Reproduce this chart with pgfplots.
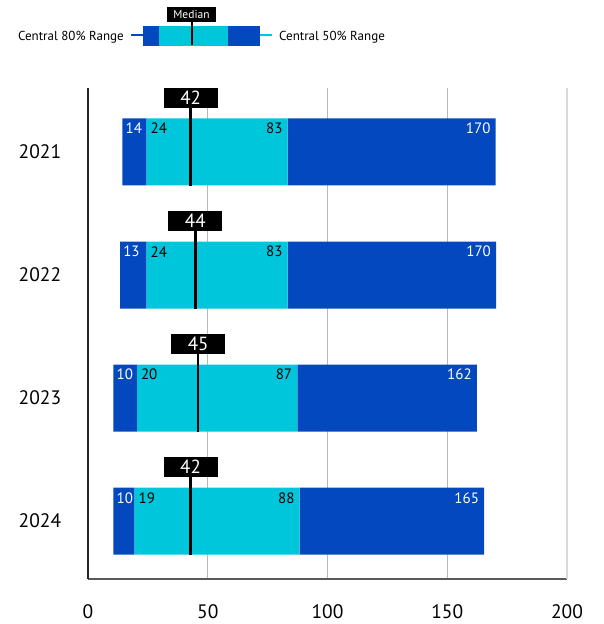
\documentclass[border=0pt]{standalone}
\usepackage{fontspec}
\setmainfont{PT Sans}
\usepackage{pgfplots}
\usepackage{pgfplotstable}
\pgfplotsset{compat=1.18}
\definecolor{dkblue}{RGB}{4,72,192}
\definecolor{cyanb}{RGB}{0,198,219}

\pgfplotstableread{
idx a b m c d la lb lm lc ld
0 14.4 24.4 42.9 83.4 170.2 14 24 42 83 170
1 13.4 24.4 44.8 83.4 170.4 13 24 44 83 170
2 10.6 20.4 46.0 87.4 162.4 10 20 45 87 162
3 10.6 19.4 42.8 88.4 165.4 10 19 42 88 165
}\data

\pgfplotsset{base/.style={scale only axis, width=479pt, height=491pt,
  xmin=0, xmax=200, ymin=-0.52, ymax=3.47, y dir=reverse,
  at={(88pt,45pt)}, anchor=south west}}

\begin{document}
\begin{tikzpicture}[x=1pt,y=1pt]
\path (0,0) rectangle (604,624);
\begin{axis}[base, xbar stacked, bar width=67pt,
  axis x line*=bottom, axis y line*=left,
  axis line style={-, line width=1.2pt},
  x axis line style={color=black!65},
  y axis line style={color=black!85},
  xtick={0,50,100,150}, extra x ticks={200},
  extra x tick style={grid style={black!15, line width=1.8pt}},
  xmajorgrids, grid style={black!28, line width=0.8pt},
  ytick={0,1,2,3}, yticklabels={2021,2022,2023,2024},
  major tick length=0pt,
  tick label style={font=\fontsize{19.5}{19.5}\selectfont},
  xticklabel style={anchor=center, yshift=-33pt},
  yticklabel style={anchor=center, xshift=-48pt},
  /pgf/number format/assume math mode=true]
\addplot[draw=none, fill=none] table[x=a, y=idx]{\data};
\addplot[draw=none, fill=dkblue] table[x expr=\thisrow{b}-\thisrow{a}, y=idx]{\data};
\addplot[draw=none, fill=cyanb] table[x expr=\thisrow{c}-\thisrow{b}, y=idx]{\data};
\addplot[draw=none, fill=dkblue] table[x expr=\thisrow{d}-\thisrow{c}, y=idx]{\data};
\end{axis}
\begin{axis}[base, hide axis, clip=false]
\addplot[draw=none, mark=none, error bars/.cd, y dir=both, y explicit, error mark=none,
  error bar style={line width=2.6pt, black, line cap=butt}]
  table[x=m, y expr=\thisrow{idx}-0.085, y error expr=0.36]{\data};
\addplot[only marks, mark=none, nodes near coords, point meta=explicit symbolic,
  nodes near coords style={anchor=center, fill=black, text=white, minimum width=54pt,
  minimum height=20pt, inner sep=0pt, font=\fontsize{19}{19}\selectfont}]
  table[x=m, y expr=\thisrow{idx}-0.44, meta=lm]{\data};
\addplot[only marks, mark=none, nodes near coords, point meta=explicit symbolic,
  nodes near coords style={anchor=west, xshift=3pt, text=white, inner sep=0pt, font=\fontsize{15}{15}\selectfont}]
  table[x=a, y expr=\thisrow{idx}-0.19, meta=la]{\data};
\addplot[only marks, mark=none, nodes near coords, point meta=explicit symbolic,
  nodes near coords style={anchor=west, xshift=4pt, text=black, inner sep=0pt, font=\fontsize{15}{15}\selectfont}]
  table[x=b, y expr=\thisrow{idx}-0.19, meta=lb]{\data};
\addplot[only marks, mark=none, nodes near coords, point meta=explicit symbolic,
  nodes near coords style={anchor=east, xshift=-5pt, text=black, inner sep=0pt, font=\fontsize{15}{15}\selectfont}]
  table[x=c, y expr=\thisrow{idx}-0.19, meta=lc]{\data};
\addplot[only marks, mark=none, nodes near coords, point meta=explicit symbolic,
  nodes near coords style={anchor=east, xshift=-5pt, text=white, inner sep=0pt, font=\fontsize{15}{15}\selectfont}]
  table[x=d, y expr=\thisrow{idx}-0.19, meta=ld]{\data};
\end{axis}
% legend
\fill[dkblue] (143,578.3) rectangle (159,598.3);
\fill[cyanb] (159,578.3) rectangle (228,598.3);
\fill[dkblue] (228,578.3) rectangle (260,598.3);
\draw[dkblue, line width=2.5] (131,589) -- (143,589);
\draw[cyanb, line width=2.5] (260,589) -- (272,589);
\draw[black, line width=2.5] (192,579) -- (192,604);
\node[fill=black, text=white, minimum width=49, minimum height=15, inner sep=0,
  font=\fontsize{11.5}{11.5}\selectfont] at (191.5,609.5) {Median};
\node[anchor=east, inner sep=0, font=\fontsize{13}{13}\selectfont] at (124,587) {Central 80\% Range};
\node[anchor=west, inner sep=0, font=\fontsize{13}{13}\selectfont] at (279,587) {Central 50\% Range};
\end{tikzpicture}
\end{document}
